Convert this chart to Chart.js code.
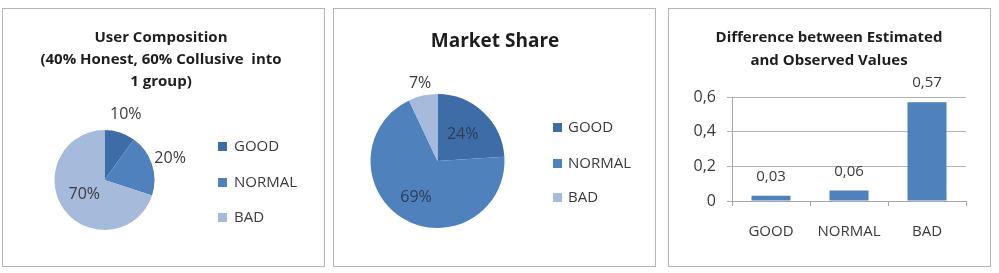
<!DOCTYPE html>
<html>
<head>
<meta charset="utf-8">
<script src="https://cdn.jsdelivr.net/npm/chart.js@4.4.1/dist/chart.umd.min.js"></script>
<style>
body{margin:0;background:#fff;width:999px;height:273px;position:relative;overflow:hidden}
.panel{position:absolute;top:8px;width:321px;height:257px;border:1px solid #b4b4b4;background:#fff}
.panel canvas{position:absolute;left:0;top:0}
</style>
</head>
<body>
<div class="panel" style="left:2px"><canvas id="c1" width="321" height="257"></canvas></div>
<div class="panel" style="left:333px"><canvas id="c2" width="321" height="257"></canvas></div>
<div class="panel" style="left:668px"><canvas id="c3" width="321" height="257"></canvas></div>
<script>
const categories = ['GOOD', 'NORMAL', 'BAD'];
const userComposition = [10, 20, 70];
const marketShare = [24, 69, 7];
const difference = [0.03, 0.06, 0.57];
const yTicks = [0, 0.2, 0.4, 0.6];

const title1 = ['User Composition', '(40% Honest, 60% Collusive  into', '1 group)'];
const title2 = ['Market Share'];
const title3 = ['Difference between Estimated', 'and Observed Values'];

const COLORS = ['#3d6ca7', '#4f81bd', '#a6badc'];
const FONT = '"Open Sans", sans-serif';
const TXT = '#3a3a3a';

function comma(v){
  if (v === 0) return '0';
  return String(v).replace('.', ',');
}

// titles + legend drawn at fixed spots like the excel sheet
const decor = {
  id: 'decor',
  afterDraw(chart, args, opts){
    const ctx = chart.ctx;
    ctx.save();
    ctx.textAlign = 'center';
    ctx.textBaseline = 'middle';
    ctx.fillStyle = '#1e1e1e';
    ctx.font = 'bold ' + opts.titleSize + 'px ' + FONT;
    opts.title.forEach((t, i) => ctx.fillText(t, opts.titleX, opts.titleY[i]));
    if (opts.legend){
      const lg = opts.legend;
      ctx.textAlign = 'left';
      ctx.font = '15px ' + FONT;
      categories.forEach((c, i) => {
        ctx.fillStyle = COLORS[i];
        ctx.fillRect(lg.x, lg.y[i] - 4, 9, 9);
        ctx.fillStyle = TXT;
        ctx.fillText(c, lg.textX, lg.y[i] + 1);
      });
    }
    ctx.restore();
  }
};

// percent labels on the pie slices
const sliceLabels = {
  id: 'sliceLabels',
  afterDatasetsDraw(chart, args, opts){
    if (chart.config.type !== 'pie') return;
    const ctx = chart.ctx;
    const meta = chart.getDatasetMeta(0);
    const vals = chart.data.datasets[0].data;
    ctx.save();
    ctx.font = '16px ' + FONT;
    ctx.textAlign = 'center';
    ctx.textBaseline = 'middle';
    meta.data.forEach((arc, i) => {
      const mid = (arc.startAngle + arc.endAngle) / 2;
      const r = arc.outerRadius * opts.factors[i];
      ctx.fillStyle = opts.colors[i];
      ctx.fillText(vals[i] + '%', arc.x + Math.cos(mid) * r, arc.y + Math.sin(mid) * r);
    });
    ctx.restore();
  }
};

// value labels above the bars
const barLabels = {
  id: 'barLabels',
  afterDatasetsDraw(chart){
    if (chart.config.type !== 'bar') return;
    const ctx = chart.ctx;
    const meta = chart.getDatasetMeta(0);
    const vals = chart.data.datasets[0].data;
    ctx.save();
    ctx.font = '15px ' + FONT;
    ctx.fillStyle = TXT;
    ctx.textAlign = 'center';
    ctx.textBaseline = 'middle';
    meta.data.forEach((bar, i) => {
      ctx.fillText(comma(vals[i]), bar.x, bar.y - 19);
    });
    ctx.restore();
  }
};

Chart.register(decor, sliceLabels, barLabels);

function pie(id, values, radius, pad, decorOpts, factors, labelColors){
  return new Chart(document.getElementById(id), {
    type: 'pie',
    data: {labels: categories, datasets: [{data: values, backgroundColor: COLORS, borderWidth: 0, hoverOffset: 0}]},
    options: {
      responsive: false,
      animation: false,
      radius: radius,
      layout: {padding: pad},
      events: [],
      plugins: {
        legend: {display: false},
        tooltip: {enabled: false},
        decor: decorOpts,
        sliceLabels: {factors: factors, colors: labelColors}
      }
    }
  });
}

pie('c1', userComposition, 50,
  {left: 51.5, right: 169.5, top: 121, bottom: 36},
  {title: title1, titleSize: 15, titleX: 158, titleY: [29, 51, 73],
   legend: {x: 215, textX: 231, y: [137, 173, 208]}},
  [1.38, 1.38, 0.5], [TXT, TXT, TXT]);

pie('c2', marketShare, 67,
  {left: 36.5, right: 150.5, top: 85, bottom: 38},
  {title: title2, titleSize: 19, titleX: 161, titleY: [33],
   legend: {x: 219, textX: 234, y: [118, 154, 188]}},
  [0.55, 0.63, 1.19], ['#2b3d57', '#2b3d57', TXT]);

new Chart(document.getElementById('c3'), {
  type: 'bar',
  data: {labels: categories, datasets: [{data: difference, backgroundColor: COLORS[1], categoryPercentage: 1, barPercentage: 0.5}]},
  options: {
    responsive: false,
    animation: false,
    events: [],
    layout: {padding: {left: 0, right: 24, top: 88, bottom: 0}},
    scales: {
      x: {
        grid: {offset: true, drawOnChartArea: false, tickLength: 5, color: '#a6a6a6'},
        border: {color: '#a6a6a6'},
        ticks: {font: {family: FONT, size: 15}, color: TXT, padding: 17},
        afterFit(s){ s.height = 65; }
      },
      y: {
        min: 0, max: 0.6,
        afterBuildTicks(s){ s.ticks = yTicks.map(v => ({value: v})); },
        grid: {color: '#b3b3b3', tickLength: 5},
        border: {color: '#a6a6a6'},
        ticks: {font: {family: FONT, size: 16}, color: TXT, padding: 11, callback: v => comma(v)},
        afterFit(s){ s.width = 63; }
      }
    },
    plugins: {
      legend: {display: false},
      tooltip: {enabled: false},
      decor: {title: title3, titleSize: 15, titleX: 160, titleY: [29, 52]}
    }
  }
});
</script>
</body>
</html>
